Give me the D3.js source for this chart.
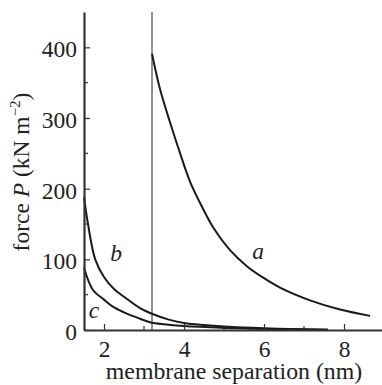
<!DOCTYPE html>
<html>
<head>
<meta charset="utf-8">
<script src="https://cdn.jsdelivr.net/npm/d3@7"></script>
</head>
<body style="margin:0;background:#fff">
<svg id="chart" width="382" height="385"></svg>
<script>
// data
const sepA = [3.2, 3.4, 3.65, 3.85, 4.15, 4.4, 4.73, 5.15, 5.58, 5.98, 6.4, 7.15, 7.9, 8.65]
const forceA = [391, 341, 294, 259, 210, 180, 145, 113, 90, 74, 60, 42, 29, 20]
const sepB = [1.5, 1.6, 1.78, 2.0, 2.25, 2.5, 2.9, 3.2, 3.6, 4.0, 4.5, 5.0, 6.0, 7.0, 7.6]
const forceB = [188, 150, 100, 75, 58, 47, 31, 23, 15, 10, 7, 5, 2.5, 1, 0.5]
const sepC = [1.5, 1.72, 2.0, 2.22, 2.5, 2.9, 3.15, 3.5, 4.0, 5.0, 6.0, 7.0, 7.6]
const forceC = [88, 57, 43, 33, 25, 16, 11, 8, 5.5, 3, 1.5, 0.8, 0.5]
const xTicks = [2, 4, 6, 8]
const xMinor = [3, 5, 7]
const yTicks = [0, 100, 200, 300, 400]
const yMinor = [50, 150, 250, 350]
const markerSep = 3.2
const curveLabels = ['a', 'b', 'c']
const labelSep = [5.85, 2.3, 1.75]
const labelForce = [100, 97, 17]

const serif = "'Liberation Serif'"
const ink = '#222'
const fontSize = 23.5
const svg = d3.select('#chart')
const margin = { top: 12, right: 0, bottom: 55, left: 84 }
const width = 382, height = 385

const x = d3.scaleLinear().domain([1.5, 8.95]).range([margin.left, width - margin.right])
const y = d3.scaleLinear().domain([0, 450]).range([height - margin.bottom, margin.top])

const axisColor = '#333'

// vertical marker line
svg.append('line')
    .attr('x1', x(markerSep)).attr('x2', x(markerSep))
    .attr('y1', y(450)).attr('y2', y(0))
    .attr('stroke', '#777').attr('stroke-width', 1.6)

const line = d3.line().curve(d3.curveCatmullRom.alpha(0.5))
const series = [[sepA, forceA], [sepB, forceB], [sepC, forceC]]
series.forEach(([xs, ys]) => {
    svg.append('path')
        .datum(xs.map((d, i) => [x(d), y(ys[i])]))
        .attr('fill', 'none')
        .attr('stroke', '#1a1a1a')
        .attr('stroke-width', 2)
        .attr('d', line)
})

// axes (ticks pointing inward)
const xAxis = svg.append('g').attr('transform', `translate(0,${ y(0) })`)
    .call(d3.axisBottom(x).tickValues(xTicks).tickSize(-6).tickPadding(10).tickSizeOuter(0))
xAxis.append('g').selectAll('line').data(xMinor).join('line')
    .attr('x1', d => x(d)).attr('x2', d => x(d)).attr('y1', 0).attr('y2', -4)
    .attr('stroke', axisColor).attr('stroke-width', 1.2)

const yAxis = svg.append('g').attr('transform', `translate(${ x(1.5) },0)`)
    .call(d3.axisLeft(y).tickValues(yTicks).tickSize(-6).tickPadding(7).tickSizeOuter(0))
yAxis.append('g').selectAll('line').data(yMinor).join('line')
    .attr('y1', d => y(d)).attr('y2', d => y(d)).attr('x1', 0).attr('x2', 4)
    .attr('stroke', axisColor).attr('stroke-width', 1.2)

for (const ax of [xAxis, yAxis]) {
    ax.select('.domain').attr('stroke', axisColor).attr('stroke-width', 2.2)
    ax.selectAll('.tick line').attr('stroke', axisColor).attr('stroke-width', 1.2)
    ax.selectAll('.tick text').style('font-family', serif).attr('font-size', fontSize).attr('fill', ink)
}
xAxis.selectAll('.tick text').attr('dy', '0.71em')
yAxis.selectAll('.tick text').attr('dy', '0.4em')

// curve labels
curveLabels.forEach((t, i) => {
    svg.append('text')
        .attr('x', x(labelSep[i])).attr('y', y(labelForce[i]))
        .attr('text-anchor', 'middle')
        .style('font-family', serif).attr('fill', ink)
        .attr('font-size', fontSize).attr('font-style', 'italic')
        .text(t)
})

// axis titles
svg.append('text')
    .attr('x', 234).attr('y', 379)
    .attr('text-anchor', 'middle').attr('font-size', 23.8)
    .style('font-family', serif).attr('fill', ink)
    .text('membrane separation (nm)')

const yTitle = svg.append('text')
    .attr('transform', `translate(29,172) rotate(-90)`)
    .attr('text-anchor', 'middle').attr('font-size', fontSize)
    .style('font-family', serif).attr('fill', ink)
yTitle.append('tspan').text('force ')
yTitle.append('tspan').attr('font-style', 'italic').text('P')
yTitle.append('tspan').text(' (kN m')
yTitle.append('tspan').attr('font-size', 15).attr('dy', -9).text('−2')
yTitle.append('tspan').attr('dy', 9).text(')')
</script>
</body>
</html>
